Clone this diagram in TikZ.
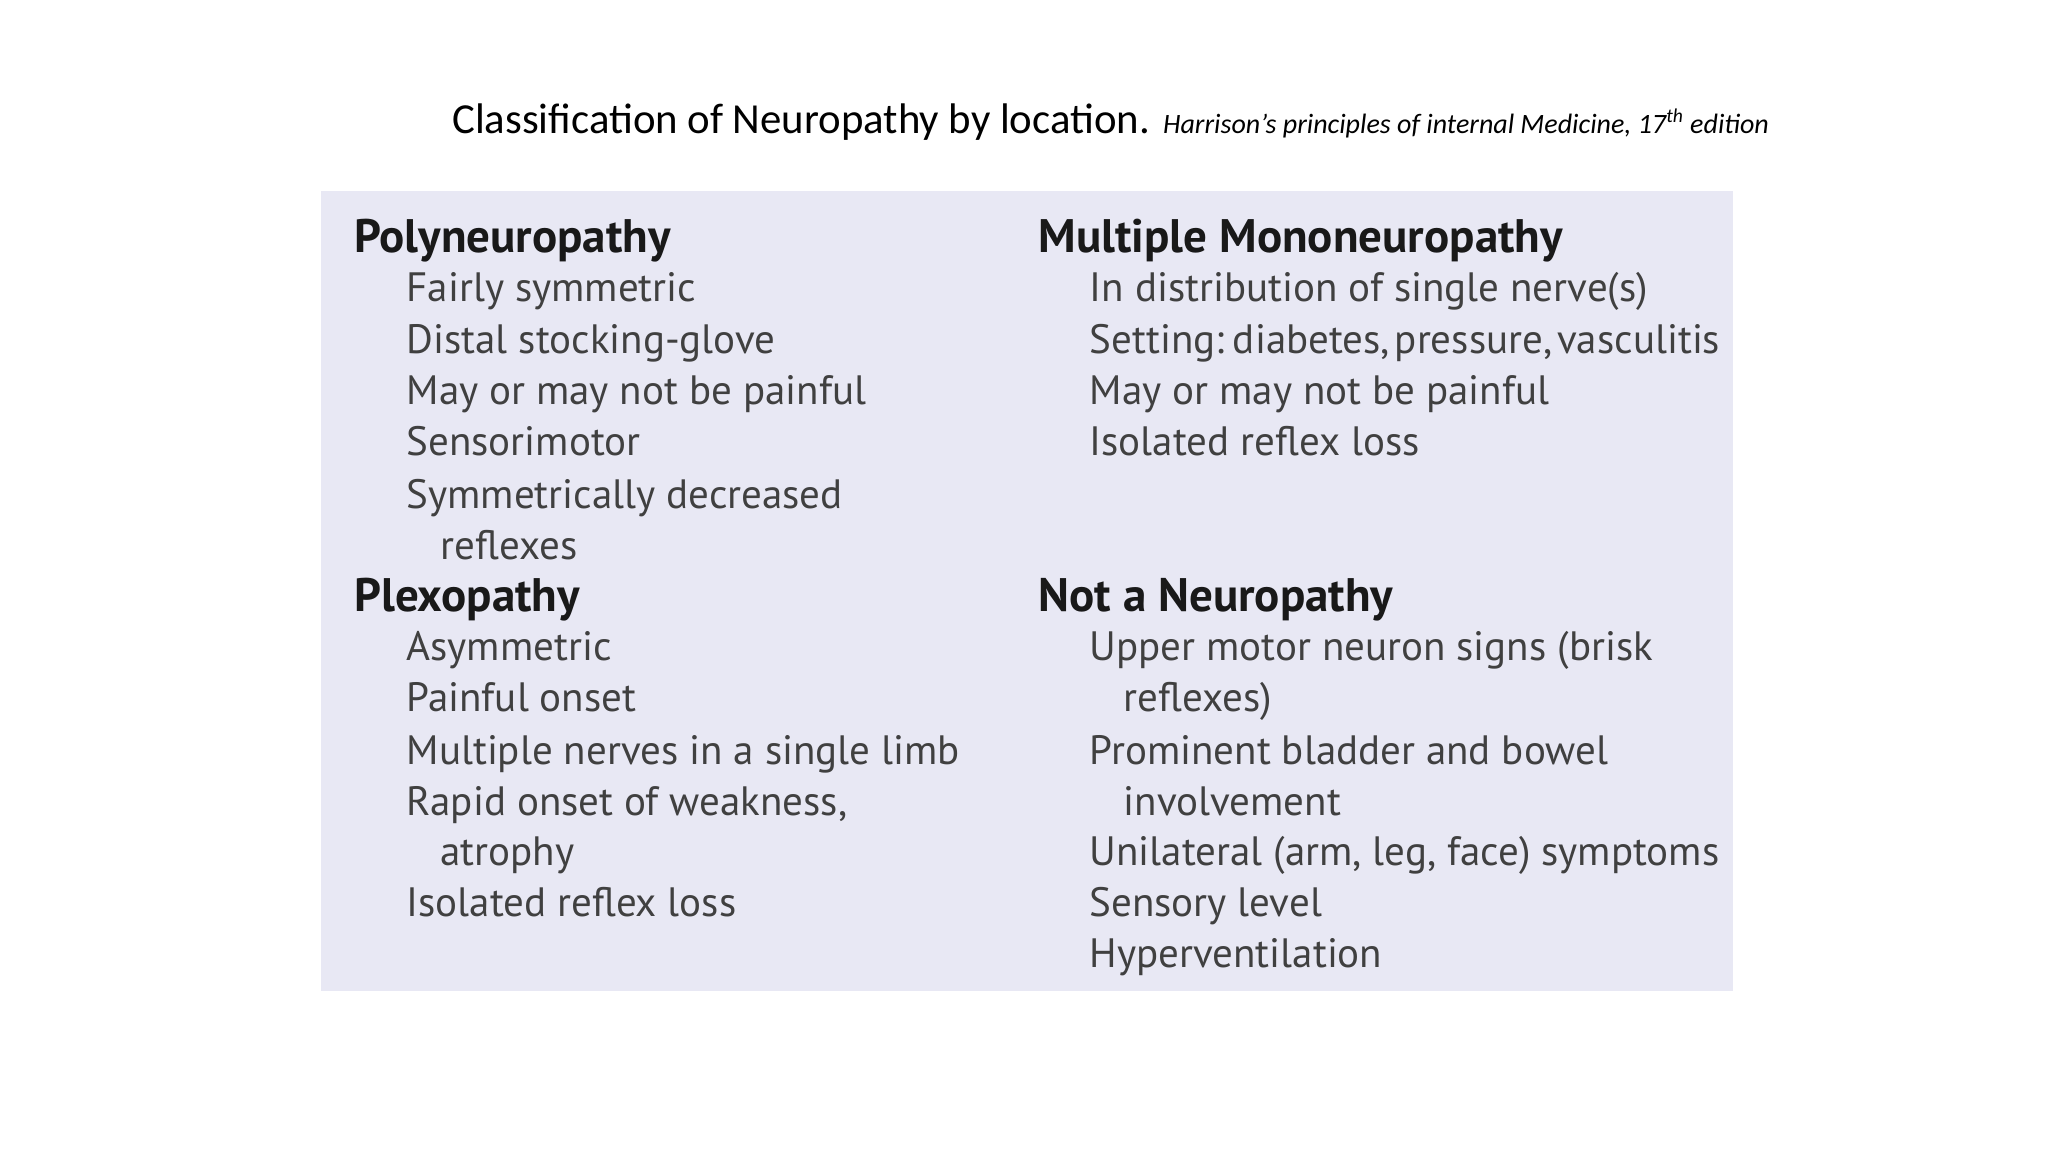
\documentclass[tikz,border=0pt]{standalone}
\usepackage{fontspec}
\setmainfont{Carlito}
\newfontfamily\bodyfont{PT Sans}
\begin{document}
\begin{tikzpicture}[x=0.6531pt,y=-0.6531pt,
  hd/.style={anchor=base west,inner sep=0,font=\bodyfont\fontsize{23.5}{26}\selectfont\bfseries,text=black!90},
  it/.style={anchor=base west,inner sep=0,font=\bodyfont\fontsize{20.5}{24}\selectfont,text=black!75}]
\useasboundingbox (0,0) rectangle (1568,882);
\fill[white] (0,0) rectangle (1568,882);
\fill[fill={rgb,255:red,232;green,232;blue,244}] (246,146) rectangle (1327,759);
\node[anchor=base west,inner sep=0,font=\fontsize{21.4}{24}\selectfont] (title) at (346,102) {Classification of Neuropathy by location. {\itshape\fontsize{14}{16}\selectfont Harrison’s principles of internal Medicine, 17\textsuperscript{th} edition}};
% left column
\node[hd] (h1) at (271,193) {Polyneuropathy};
\node[it] (a1) at (311,231) {Fairly symmetric};
\node[it] (a2) at (311,271) {Distal stocking-glove};
\node[it] (a3) at (311,310) {May or may not be painful};
\node[it] (a4) at (311,349) {Sensorimotor};
\node[it] (a5) at (311,389) {Symmetrically decreased};
\node[it] (a6) at (337,428) {reflexes};
\node[hd] (h2) at (271,468) {Plexopathy};
\node[it] (b1) at (311,506) {Asymmetric};
\node[it] (b2) at (311,545) {Painful onset};
\node[it] (b3) at (311,585) {Multiple nerves in a single limb};
\node[it] (b4) at (311,624) {Rapid onset of weakness,};
\node[it] (b5) at (337,663) {atrophy};
\node[it] (b6) at (311,702) {Isolated reflex loss};
% right column
\node[hd] (h3) at (795,193) {Multiple Mononeuropathy};
\node[it] (c1) at (834,231) {In distribution of single nerve(s)};
\node[it] (c2) at (834,271) {Setting:\hspace{-0.15em} diabetes,\hspace{-0.15em} pressure,\hspace{-0.15em} vasculitis};
\node[it] (c3) at (834,310) {May or may not be painful};
\node[it] (c4) at (834,349) {Isolated reflex loss};
\node[hd] (h4) at (795,468) {Not a Neuropathy};
\node[it] (d1) at (834,506) {Upper motor neuron signs (brisk};
\node[it] (d2) at (860,545) {reflexes)};
\node[it] (d3) at (834,585) {Prominent bladder and bowel};
\node[it] (d4) at (860,624) {involvement};
\node[it] (d5) at (834,663) {Unilateral (arm, leg, face) symptoms};
\node[it] (d6) at (834,702) {Sensory level};
\node[it] (d7) at (834,741) {Hyperventilation};
\end{tikzpicture}
\end{document}
